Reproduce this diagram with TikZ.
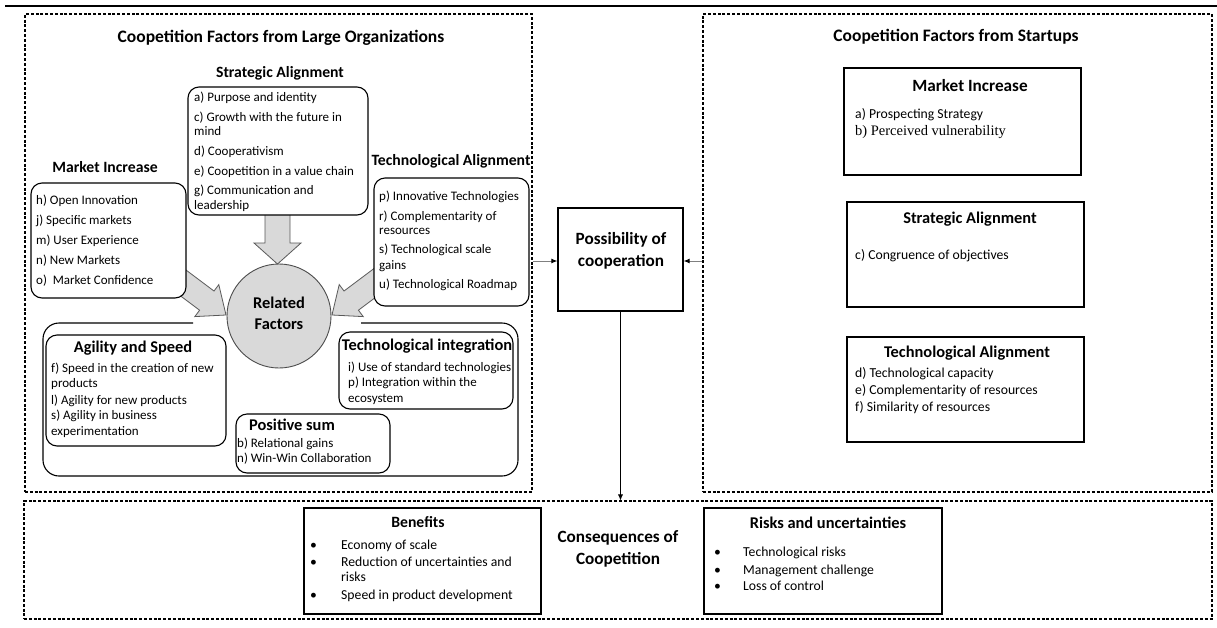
\documentclass[tikz,border=0pt]{standalone}
\usepackage{fontspec}
\setmainfont{Carlito}
\newfontfamily\serifb{Liberation Serif}
\usetikzlibrary{arrows.meta,fit}
\begin{document}
\begin{tikzpicture}[x=1pt,y=-1pt,
  dbox/.style={draw, dash pattern=on 3pt off 1.8pt, line width=1.1pt, inner sep=0},
  rbox/.style={draw, rounded corners=11pt, line width=1.1pt, fill=white, inner sep=0},
  sbox/.style={draw, line width=1.2pt, fill=white, inner sep=0},
  it/.style={anchor=base west, inner sep=0, font=\fontsize{13}{15}\selectfont},
  its/.style={anchor=base west, inner sep=0, font=\fontsize{13.7}{16}\selectfont},
  hd/.style={anchor=base, inner sep=0, font=\bfseries\fontsize{15.7}{18}\selectfont},
  hdb/.style={anchor=base, inner sep=0, font=\bfseries\fontsize{16.4}{19}\selectfont},
  hdl/.style={anchor=base, inner sep=0, font=\bfseries\fontsize{17.2}{20}\selectfont},
  ttl/.style={anchor=base, inner sep=0, font=\bfseries\fontsize{17.5}{20}\selectfont},
  barrow/.style={fill=gray!30, draw=black!65, line width=0.8pt},
  conn/.style={draw=black!50, line width=1pt, -{Latex[black,length=6pt,width=5pt]}},
  vconn/.style={draw=black, line width=0.7pt, -{Latex[black,length=6pt,width=5pt]}}]
\useasboundingbox (0,0) rectangle (1217,627);
\fill[white] (0,0) rectangle (1217,627);
\draw[line width=2pt] (5,6) -- (1217,6);

% dashed frames
\node[dbox, fit={(25,14) (532,492)}] (lbox) {};
\node[dbox, fit={(703,14) (1212,492)}] (rbox) {};
\node[dbox, fit={(24,501) (1212,619)}] (bbox) {};

% ---------------- left part ----------------
\node[ttl] (lttl) at (281,42) {Coopetition Factors from Large Organizations};
\node[hd] (sahd) at (280,77) {Strategic Alignment};
\node[hd] (mihd) at (105,172) {Market Increase};
\node[hd] (tahd) at (451,165) {Technological Alignment};

% big rounded frame (broken by the circle)
\draw[line width=1.1pt, rounded corners=16pt] (193,323) -- (43,323) -- (43,476) -- (518,476) -- (518,323) -- (361,323);

% block arrows
\draw[barrow] (265,200) -- (265,243) -- (254,243) -- (277.5,264) -- (301,243) -- (290,243) -- (290,200) -- cycle;
\draw[barrow] (166,255) -- (214,291) -- (218.8,284.6) -- (226,315) -- (194.8,316.6) -- (199.6,310.2) -- (151.6,274.2) -- cycle;
\draw[barrow] (392,255) -- (344,291) -- (339.2,284.6) -- (332,315) -- (363.2,316.6) -- (358.4,310.2) -- (406.4,274.2) -- cycle;

% boxes
\node[rbox, fit={(188,87) (368,215)}] (sabox) {};
\node[rbox, fit={(31,183) (186,298)}] (mibox) {};
\node[rbox, fit={(374,178) (529,306)}] (tabox) {};
\node[circle, draw=black!70, fill=gray!30, line width=0.9pt, minimum size=104pt, inner sep=0] (rel) at (279,316) {};
\node[rbox, fit={(46,335) (226,446)}] (agbox) {};
\node[rbox, fit={(339,332) (513,409)}] (tibox) {};
\node[rbox, fit={(236,414) (390,473)}] (psbox) {};

% strategic items
\node[it] (sa1) at (194,101) {a) Purpose and identity};
\node[it] (sa2) at (194,121) {c) Growth with the future in};
\node[it] (sa3) at (194,135) {mind};
\node[it] (sa4) at (194,155) {d) Cooperativism};
\node[it] (sa5) at (194,175) {e) Coopetition in a value chain};
\node[it] (sa6) at (194,194) {g) Communication and};
\node[it] (sa7) at (194,209) {leadership};
% market items
\node[it] (mi1) at (36,204) {h) Open Innovation};
\node[it] (mi2) at (36,224) {j) Specific markets};
\node[it] (mi3) at (36,244) {m) User Experience};
\node[it] (mi4) at (36,264) {n) New Markets};
\node[it] (mi5) at (36,284) {o)\ \ Market Confidence};
% technological items
\node[it] (ta1) at (379,200) {p) Innovative Technologies};
\node[it] (ta2) at (379,220) {r) Complementarity of};
\node[it] (ta3) at (379,234) {resources};
\node[it] (ta4) at (379,253) {s) Technological scale};
\node[it] (ta5) at (379,269) {gains};
\node[it] (ta6) at (379,288) {u) Technological Roadmap};
% related factors
\node[hdb] (rf1) at (279,308) {Related};
\node[hdb] (rf2) at (279,329) {Factors};
% agility
\node[hdb] (aghd) at (133,352) {Agility and Speed};
\node[it] (ag1) at (51,372) {f) Speed in the creation of new};
\node[it] (ag2) at (51,387) {products};
\node[it] (ag3) at (51,404) {l) Agility for new products};
\node[it] (ag4) at (51,419) {s) Agility in business};
\node[it] (ag5) at (51,435) {experimentation};
% technological integration
\node[hdb] (tihd) at (427,350) {Technological integration};
\node[it] (ti1) at (348,371) {i) Use of standard technologies};
\node[it] (ti2) at (348,386) {p) Integration within the};
\node[it] (ti3) at (348,402) {ecosystem};
% positive sum
\node[hdb] (pshd) at (292,430) {Positive sum};
\node[it] (ps1) at (237,447) {b) Relational gains};
\node[it] (ps2) at (237,462) {n) Win-Win Collaboration};

% ---------------- middle ----------------
\node[sbox, fit={(558,208) (683,311)}] (poss) {};
\node[hdl] (po1) at (621,244) {Possibility of};
\node[hdl] (po2) at (621,266) {cooperation};
\draw[conn] (lbox.east |- 0,261) -- (poss.west |- 0,261);
\draw[conn] (rbox.west |- 0,261) -- (poss.east |- 0,261);
\draw[vconn] (poss.south) -- (poss.south |- bbox.north);

% ---------------- right part ----------------
\node[ttl] (rttl) at (956,41) {Coopetition Factors from Startups};
\node[sbox, fit={(844,68) (1081,175)}] (rmi) {};
\node[hdl] (rmihd) at (970,91) {Market Increase};
\node[its] (rmi1) at (855,118) {a) Prospecting Strategy};
\node[anchor=base west, inner sep=0, font=\serifb\fontsize{14.5}{16}\selectfont] (rmi2) at (855,135) {b) Perceived vulnerability};
\node[sbox, fit={(847,202) (1084,307)}] (rsa) {};
\node[hdb] (rsahd) at (970,223) {Strategic Alignment};
\node[its] (rsa1) at (855,259) {c) Congruence of objectives};
\node[sbox, fit={(847,337) (1084,442)}] (rta) {};
\node[hdb] (rtahd) at (967,357) {Technological Alignment};
\node[its] (rta1) at (855,377) {d) Technological capacity};
\node[its] (rta2) at (855,394) {e) Complementarity of resources};
\node[its] (rta3) at (855,411) {f) Similarity of resources};

% ---------------- bottom ----------------
\node[sbox, fit={(304,508) (541,614)}] (ben) {};
\node[hd] (benhd) at (418,527) {Benefits};
\node[its] (bb1) at (310,549) {\textbullet};
\node[its] (bt1) at (341,549) {Economy of scale};
\node[its] (bb2) at (310,566) {\textbullet};
\node[its] (bt2) at (341,566) {Reduction of uncertainties and};
\node[its] (bt3) at (341,581) {risks};
\node[its] (bb3) at (310,599) {\textbullet};
\node[its] (bt4) at (341,599) {Speed in product development};
\node[hdl] (cons1) at (618,542) {Consequences of};
\node[hdl] (cons2) at (618,564) {Coopetition};
\node[sbox, fit={(704,508) (942,614)}] (risk) {};
\node[hdb] (riskhd) at (828,528) {Risks and uncertainties};
\node[its] (rb1) at (714,556) {\textbullet};
\node[its] (rt1) at (743,556) {Technological risks};
\node[its] (rb2) at (714,574) {\textbullet};
\node[its] (rt2) at (743,574) {Management challenge};
\node[its] (rb3) at (714,590) {\textbullet};
\node[its] (rt3) at (743,590) {Loss of control};
\end{tikzpicture}
\end{document}
